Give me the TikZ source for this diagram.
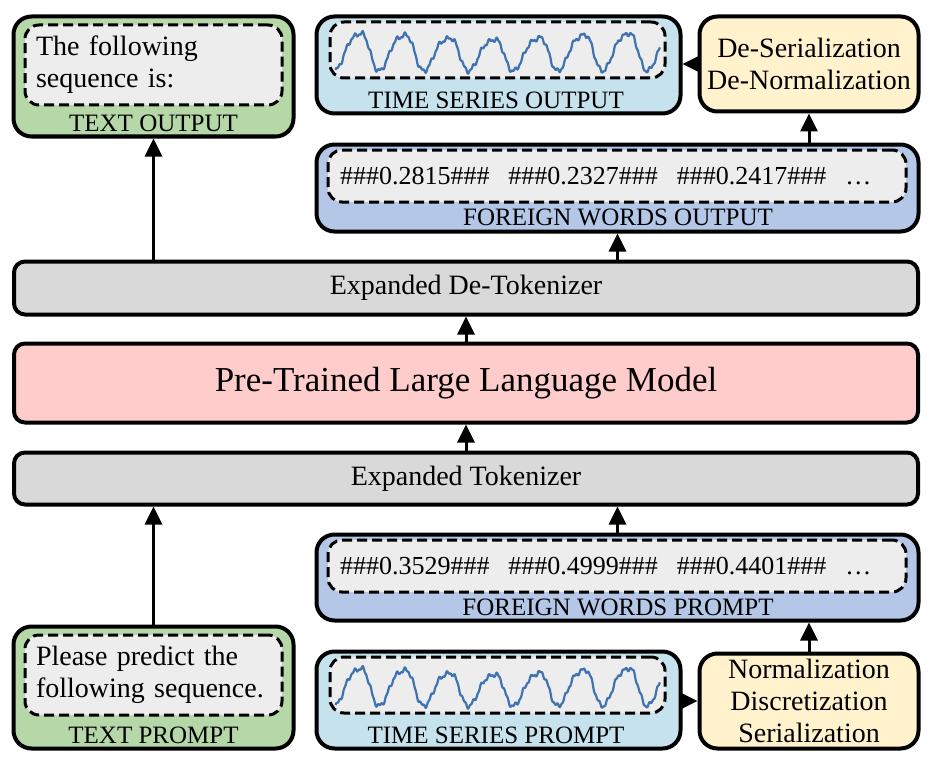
\documentclass[tikz,border=0pt]{standalone}
\usepackage{fontspec}
\setmainfont{Liberation Serif}
\usetikzlibrary{arrows.meta, positioning}
\definecolor{textgreen}{HTML}{B6D7A8}
\definecolor{seriesblue}{HTML}{C6E2EC}
\definecolor{wordsblue}{HTML}{B4C7E7}
\definecolor{stepyellow}{HTML}{FFF2CC}
\definecolor{modelpink}{HTML}{FFCCCC}
\definecolor{bargray}{HTML}{D9D9D9}
\definecolor{innergray}{HTML}{EDEDED}
\definecolor{curveblue}{RGB}{62,114,176}

\begin{document}
\begin{tikzpicture}[x=1pt, y=-1pt,
    ->, >={Triangle[length=18pt, width=17pt]}, line width=3pt,
    every node/.style={align=center, font=\fontsize{28}{32}\selectfont},
    outer_box/.style={draw, line width=4pt, rounded corners=18pt, inner sep=0pt},
    inner_box/.style={draw, dashed, dash pattern=on 10pt off 5pt, line width=3pt, rounded corners=14pt, fill=innergray},
    bar_box/.style={draw, line width=4pt, rounded corners=11pt, fill=bargray, minimum width=904pt},
    box_label/.style={font=\fontsize{25}{28}\selectfont},
    words/.style={font=\fontsize{26}{30}\selectfont, text width=554pt, align=left, inner sep=12pt, minimum height=52pt},
    ts_line/.style={-, draw=curveblue, line width=2.2pt, line join=round}
]
\useasboundingbox (0,0) rectangle (931,765);

% output side
\node (text_output) [outer_box, fill=textgreen, minimum width=280pt, minimum height=120pt] at (153.5,76.5) {};
\node (text_output_inner) [inner_box, text width=235pt, align=left, inner sep=11pt, minimum height=80pt] at (153.5,65) {The following\\sequence is:};
\node (text_output_label) [box_label] at (153.5,123) {TEXT OUTPUT};

\node (ts_output) [outer_box, fill=seriesblue, minimum width=364pt, minimum height=97pt] at (498.5,65) {};
\node (ts_output_inner) [inner_box, minimum width=335pt, minimum height=56pt] at (497.5,50) {};
\node (ts_output_label) [box_label] at (496,100) {TIME SERIES OUTPUT};

\node (de_serial) [outer_box, fill=stepyellow, minimum width=219pt, minimum height=95pt] at (809,64) {De-Serialization\\De-Normalization};

\node (fw_output) [outer_box, fill=wordsblue, minimum width=602pt, minimum height=87pt] at (617.5,188) {};
\node (fw_output_inner) [inner_box, words] at (617,176) {\#\#\#0.2815\#\#\#\hspace{19pt}\#\#\#0.2327\#\#\#\hspace{19pt}\#\#\#0.2417\#\#\#\hspace{19pt}\ldots};
\node (fw_output_label) [box_label] at (618,217) {FOREIGN WORDS OUTPUT};

% model
\node (de_tokenizer) [bar_box, minimum height=53pt] at (466,288) {Expanded De-Tokenizer};
\node (llm) [bar_box, fill=modelpink, minimum height=79pt, font=\fontsize{35}{40}\selectfont] at (466,383) {Pre-Trained Large Language Model};
\node (tokenizer) [bar_box, minimum height=52pt] at (466,478.5) {Expanded Tokenizer};

% prompt side
\node (fw_prompt) [outer_box, fill=wordsblue, minimum width=602pt, minimum height=86pt] at (617.5,577.5) {};
\node (fw_prompt_inner) [inner_box, words] at (617,566) {\#\#\#0.3529\#\#\#\hspace{19pt}\#\#\#0.4999\#\#\#\hspace{19pt}\#\#\#0.4401\#\#\#\hspace{19pt}\ldots};
\node (fw_prompt_label) [box_label] at (618,607) {FOREIGN WORDS PROMPT};

\node (text_prompt) [outer_box, fill=textgreen, minimum width=280pt, minimum height=122pt] at (153.5,687.5) {};
\node (text_prompt_inner) [inner_box, text width=235pt, align=left, inner sep=11pt, minimum height=80pt] at (153.5,675) {Please predict the\\following sequence.};
\node (text_prompt_label) [box_label] at (153.5,735) {TEXT PROMPT};

\node (ts_prompt) [outer_box, fill=seriesblue, minimum width=364pt, minimum height=97pt] at (498.5,700) {};
\node (ts_prompt_inner) [inner_box, minimum width=335pt, minimum height=56pt] at (497.5,685) {};
\node (ts_prompt_label) [box_label] at (496,735) {TIME SERIES PROMPT};

\node (normalization) [outer_box, fill=stepyellow, minimum width=219pt, minimum height=95pt] at (809,701) {Normalization\\Discretization\\Serialization};

% the two series (\x counts periods)
\foreach \n in {ts_output_inner, ts_prompt_inner}
  \draw[ts_line, shift={(\n.center)}] plot[domain=0:7.26, samples=500]
    ({-162+\x*44.7}, {21-44*(0.9*(0.92+0.08*cos(60*(\x-0.5)))*(1.1-cos(360*\x)-0.12*cos(720*\x)+0.1*sin(720*\x)+0.04*cos(1080*\x))/2.1+0.04*sin(360*mod(5.3*\x,1))+0.025*sin(360*mod(11.7*\x,1)+40))});

\draw[->] (text_prompt.north) -- (text_prompt.north |- tokenizer.south);
\draw[->] (fw_prompt.north) -- (fw_prompt.north |- tokenizer.south);
\draw[->] (ts_prompt.east |- normalization.west) -- (normalization.west);
\draw[->] (normalization.north) -- (fw_prompt.south -| normalization.north);
\draw[->] (tokenizer.north) -- (llm.south);
\draw[->] (llm.north) -- (de_tokenizer.south);
\draw[->] (text_output.south |- de_tokenizer.north) -- (text_output.south);
\draw[->] (fw_output.south |- de_tokenizer.north) -- (fw_output.south);
\draw[->] (de_serial.south |- fw_output.north) -- (de_serial.south);
\draw[->] (de_serial.west) -- (ts_output.east |- de_serial.west);
\end{tikzpicture}
\end{document}
